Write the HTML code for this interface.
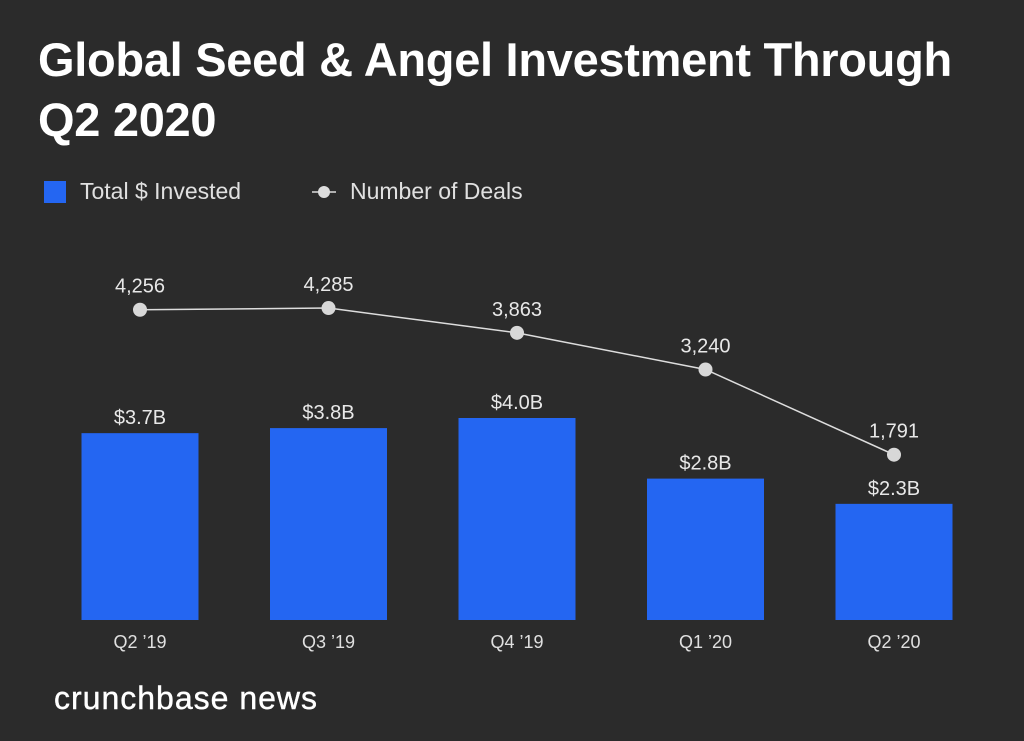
<!DOCTYPE html>
<html><head><meta charset="utf-8"><style>
html,body{margin:0;padding:0;background:#2b2b2b;}
#wrap{position:relative;width:1024px;height:741px;background:#2b2b2b;overflow:hidden;font-family:"Liberation Sans",sans-serif;}
#title{position:absolute;left:38px;top:30px;color:#fff;font-size:47px;font-weight:bold;line-height:60px;margin:0;letter-spacing:-0.3px;}
#footer{position:absolute;left:54px;top:680px;color:#fff;font-size:32px;letter-spacing:1px;font-weight:500;-webkit-text-stroke:0.4px #fff;}
</style></head><body>
<div id="wrap">
<h1 id="title">Global Seed &amp; Angel Investment Through<br>Q2 2020</h1>
<svg id="chart" width="1024" height="741" style="position:absolute;left:0;top:0"></svg>
<div id="footer">crunchbase news</div>
</div>
<script>
const categories=["Q2 ’19","Q3 ’19","Q4 ’19","Q1 ’20","Q2 ’20"];
const invested=[3.7,3.8,4.0,2.8,2.3];
const investedLabels=["$3.7B","$3.8B","$4.0B","$2.8B","$2.3B"];
const deals=[4256,4285,3863,3240,1791];
const dealLabels=["4,256","4,285","3,863","3,240","1,791"];

const NS="http://www.w3.org/2000/svg";
const svg=document.getElementById('chart');
const baseY=620, barW=117;
const xc=i=>140+i*188.5;
const yBar=v=>baseY-v*50.5;
const yDeal=v=>560-v*0.0588;
function mk(t,a,p){const e=document.createElementNS(NS,t);for(const k in a)e.setAttribute(k,a[k]);(p||svg).appendChild(e);return e;}

const lg=mk('g',{});


const r=mk('rect',{x:44,y:181,width:22,height:22,fill:'#2466f2'},lg);


let t=mk('text',{x:80,y:199,fill:'#e0e0e0','font-size':23},lg);t.textContent='Total $ Invested';


mk('line',{x1:312,y1:192,x2:336,y2:192,stroke:'#ddd','stroke-width':1.5},lg);
mk('circle',{cx:324,cy:192,r:6,fill:'#ddd'},lg);
t=mk('text',{x:350,y:199,fill:'#e0e0e0','font-size':23},lg);t.textContent='Number of Deals';



categories.forEach((c,i)=>{
  const b=mk('rect',{x:xc(i)-barW/2,y:yBar(invested[i]),width:barW,height:baseY-yBar(invested[i]),fill:'#2466f2'});
  
  
  const bl=mk('text',{x:xc(i),y:yBar(invested[i])-9,fill:'#e8e8e8','font-size':20,'text-anchor':'middle'});
  bl.textContent=investedLabels[i];
  
  
  const xl=mk('text',{x:xc(i),y:648,fill:'#e0e0e0','font-size':18,'text-anchor':'middle'});
  xl.textContent=c;
  
  
});
const pts=deals.map((v,i)=>xc(i)+','+yDeal(v)).join(' ');
const pl=mk('polyline',{points:pts,fill:'none',stroke:'#ddd','stroke-width':1.5});


deals.forEach((v,i)=>{
  const c=mk('circle',{cx:xc(i),cy:yDeal(v),r:7,fill:'#d8d8d8'});
  
  
  const l=mk('text',{x:xc(i),y:yDeal(v)-17,fill:'#e8e8e8','font-size':20,'text-anchor':'middle'});
  l.textContent=dealLabels[i];
  
  
});
</script>
</body></html>
